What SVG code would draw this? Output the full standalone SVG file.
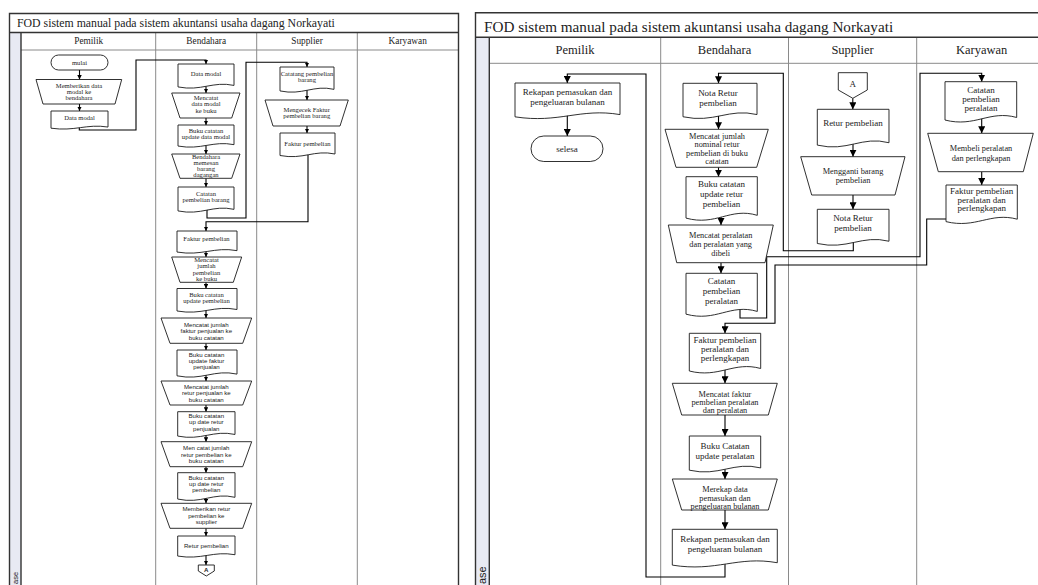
<svg xmlns="http://www.w3.org/2000/svg" width="1038" height="585" viewBox="0 0 1038 585">
<defs>
<style>
.frame{fill:none;stroke:#333;stroke-width:1.4}
.lane{fill:none;stroke:#8a8a8a;stroke-width:1}
.phase{fill:#e8eaf3}
.sh{fill:#fff;stroke:#1a1a1a;stroke-width:0.9}
.doc{fill:#fff;stroke:#1a1a1a;stroke-width:0.9;vector-effect:non-scaling-stroke}
.cn{fill:none;stroke:#000;stroke-width:1.1}
.cs{marker-end:url(#ahS)}
.cl{marker-end:url(#ahL)}
text{fill:#222;text-anchor:middle}
.ttl{font-family:"Liberation Serif",serif;text-anchor:start}
.hd{font-family:"Liberation Serif",serif}
.ls{font-family:"Liberation Serif",serif;font-size:6.6px}
.lsa{font-family:"Liberation Sans",Arial,sans-serif;font-size:6.1px}
.rd{font-family:"Liberation Serif",serif;font-size:9px}
.rt{font-family:"Liberation Serif",serif;font-size:8.3px}
.ph{font-family:"Liberation Sans",Arial,sans-serif;text-anchor:start}
</style>
<marker id="ahS" viewBox="0 0 10 10" refX="10" refY="5" markerWidth="4.5" markerHeight="4.5" markerUnits="userSpaceOnUse" orient="auto"><path d="M0,0L10,5L0,10z"/></marker>
<marker id="ahL" viewBox="0 0 10 10" refX="10" refY="5" markerWidth="7" markerHeight="7" markerUnits="userSpaceOnUse" orient="auto"><path d="M0,0L10,5L0,10z"/></marker>
</defs>
<rect width="1038" height="585" fill="#fff"/>

<!-- ===== Left pool ===== -->
<g id="pool-left">
  <rect class="phase" x="9.5" y="32.5" width="11.5" height="560"/>
  <path class="lane" d="M21,50H458.5M155.7,32.5V600M256.7,32.5V600M357.3,32.5V600"/>
  <path class="frame" d="M9.5,600V13.5H458.5V600M9.5,32.5H458.5M21,32.5V600"/>
  <text class="ttl" x="17" y="27" font-size="11.8">FOD sistem manual pada sistem akuntansi usaha dagang Norkayati</text>
  <text class="hd" x="88.7" y="44" font-size="9.3">Pemilik</text>
  <text class="hd" x="206.2" y="44" font-size="9.3">Bendahara</text>
  <text class="hd" x="307" y="44" font-size="9.3">Supplier</text>
  <text class="hd" x="407.7" y="44" font-size="9.3">Karyawan</text>
  <text class="ph" transform="translate(18 584) rotate(-90)" font-size="7.5" fill="#7d8aa3">ase</text>
</g>

<!-- ===== Right pool ===== -->
<g id="pool-right">
  <rect class="phase" x="475.5" y="37.3" width="13.8" height="560"/>
  <path class="lane" d="M489.3,63.3H1045M660.7,37.3V600M788.5,37.3V600M916.7,37.3V600"/>
  <path class="frame" d="M475.5,600V12.7H1045M475.5,37.3H1045M489.3,37.3V600"/>
  <text class="ttl" x="484" y="32" font-size="15.2">FOD sistem manual pada sistem akuntansi usaha dagang Norkayati</text>
  <text class="hd" x="575" y="54" font-size="12.5">Pemilik</text>
  <text class="hd" x="724.6" y="54" font-size="12.5">Bendahara</text>
  <text class="hd" x="852.6" y="54" font-size="12.5">Supplier</text>
  <text class="hd" x="981.7" y="54" font-size="12.5">Karyawan</text>
  <text class="ph" transform="translate(486 584) rotate(-90)" font-size="11" fill="#5b7cb8">ase</text>
</g>

<!-- ===== Connectors ===== -->
<g id="connectors" class="cn">
  <!-- left pool -->
  <path class="cs" d="M79.5,70V79.5"/>
  <path class="cs" d="M79.5,104V111"/>
  <path class="cs" d="M79.3,127V130H136V60H206V64"/>
  <path class="cs" d="M206,85.5V93"/>
  <path class="cs" d="M206,118V125"/>
  <path class="cs" d="M206,144.5V154"/>
  <path class="cs" d="M206,178.3V187"/>
  <path class="cs" d="M207,209V218H246V62.3H307V67"/>
  <path class="cs" d="M307,89.3V100"/>
  <path class="cs" d="M307,126V133"/>
  <path class="cs" d="M308,154V221.7H206V231"/>
  <path class="cs" d="M206,250.7V257"/>
  <path class="cs" d="M206,282.3V288.5"/>
  <path class="cs" d="M206,309.5V318"/>
  <path class="cs" d="M206,343.3V350"/>
  <path class="cs" d="M206,374V381"/>
  <path class="cs" d="M206,405V411.7"/>
  <path class="cs" d="M206,434.5V441.7"/>
  <path class="cs" d="M206,466.7V472.7"/>
  <path class="cs" d="M206,497.3V503.3"/>
  <path class="cs" d="M206,528.3V536"/>
  <path class="cs" d="M206,554.7V565"/>
  <!-- right pool -->
  <path class="cl" d="M567.3,114.6V136"/>
  <path class="cl" d="M725,562.7V577H646V74H567.3V83"/>
  <path class="cl" d="M718.5,114.6V129.3"/>
  <path class="cl" d="M718.5,167.3V176.7"/>
  <path class="cl" d="M721,215.4V225"/>
  <path class="cl" d="M721,262.7V273.3"/>
  <path class="cl" d="M740,310V318H766.7V256.7H920V73.3H981.7V81.7"/>
  <path class="cl" d="M946,219H926.7V265H775V323.3H725V333.3"/>
  <path class="cl" d="M725,368.5V383.3"/>
  <path class="cl" d="M725,415V436"/>
  <path class="cl" d="M725,468V479"/>
  <path class="cl" d="M725,510V529.3"/>
  <path class="cl" d="M852.8,98.3V109.3"/>
  <path class="cl" d="M853,142.7V156.7"/>
  <path class="cl" d="M853,195V209.3"/>
  <path class="cl" d="M853.3,241.2V250.7H783.3V73.3H718.5V83.3"/>
  <path class="cl" d="M981.7,117.5V133.3"/>
  <path class="cl" d="M981.7,171.7V185"/>
</g>

<!-- ===== Left pool nodes (documents drawn in unit space, stroke kept constant) ===== -->
<g id="l-mulai"><rect class="sh" x="51" y="55" width="57" height="15" rx="7.5"/><text class="ls" x="79.5" y="65">mulai</text></g>
<g id="l-memberikan-modal"><polygon class="sh" points="36,79.5 121.7,79.5 115,104 43,104"/>
  <text class="ls" x="79" y="87.5">Memberikan data</text><text class="ls" x="79" y="93.5">modal ke</text><text class="ls" x="79" y="99.5">bendahara</text></g>
<g id="l-data-modal-p"><path class="doc" d="M0,0H1V.84C.62,.66 .42,1.08 0,.9Z" transform="translate(51 111) scale(57 19.1)"/>
  <text class="ls" x="79.5" y="119.5">Data modal</text></g>
<g id="l-data-modal-b"><path class="doc" d="M0,0H1V.84C.62,.66 .42,1.08 0,.9Z" transform="translate(178 64) scale(56 25.5)"/>
  <text class="ls" x="206" y="75.5">Data modal</text></g>
<g id="l-catat-modal"><polygon class="sh" points="171.7,93 240,93 231.7,118 180,118"/>
  <text class="ls" x="206" y="99.5">Mencatat</text><text class="ls" x="206" y="106">data modal</text><text class="ls" x="206" y="112.5">ke buku</text></g>
<g id="l-buku-modal"><path class="doc" d="M0,0H1V.84C.62,.66 .42,1.08 0,.9Z" transform="translate(178 125) scale(56 23.4)"/>
  <text class="ls" x="206" y="133">Buku catatan</text><text class="ls" x="206" y="139">update data modal</text></g>
<g id="l-memesan"><polygon class="sh" points="171.7,154 240,154 231.7,178.3 180,178.3"/>
  <text class="ls" x="206" y="158.5">Bendahara</text><text class="ls" x="206" y="164.8">memesan</text><text class="ls" x="206" y="171.1">barang</text><text class="ls" x="206" y="177.4">dagangan</text></g>
<g id="l-catatan-barang"><path class="doc" d="M0,0H1V.84C.62,.66 .42,1.08 0,.9Z" transform="translate(178 187) scale(56 26.6)"/>
  <text class="ls" x="206" y="196.3">Catatan</text><text class="ls" x="206" y="202.3">pembelian barang</text></g>
<g id="l-sup-catatan"><path class="doc" d="M0,0H1V.84C.62,.66 .42,1.08 0,.9Z" transform="translate(280 67) scale(54 26.6)"/>
  <text class="ls" x="307" y="76.3">Catatang pembelian</text><text class="ls" x="307" y="82.3">barang</text></g>
<g id="l-sup-cek"><polygon class="sh" points="265,100 348.3,100 340,126 273,126"/>
  <text class="ls" x="306.7" y="112">Mengecek Faktur</text><text class="ls" x="306.7" y="118.3">pembelian barang</text></g>
<g id="l-sup-faktur"><path class="doc" d="M0,0H1V.84C.62,.66 .42,1.08 0,.9Z" transform="translate(280 133) scale(55 25)"/>
  <text class="ls" x="307.5" y="145.5">Faktur pembelian</text></g>
<g id="l-faktur"><path class="doc" d="M0,0H1V.84C.62,.66 .42,1.08 0,.9Z" transform="translate(177 231) scale(60 23.4)"/>
  <text class="ls" x="206.5" y="240.5">Faktur pembelian</text></g>
<g id="l-catat-pembelian"><polygon class="sh" points="171.7,257 241.7,257 233.3,282.3 180,282.3"/>
  <text class="ls" x="206.5" y="261.5">Mencatat</text><text class="ls" x="206.5" y="268">jumlah</text><text class="ls" x="206.5" y="274.5">pembelian</text><text class="ls" x="206.5" y="281">ke buku</text></g>
<g id="l-buku-pembelian"><path class="doc" d="M0,0H1V.84C.62,.66 .42,1.08 0,.9Z" transform="translate(177 288.5) scale(60 25)"/>
  <text class="ls" x="206.5" y="297">Buku catatan</text><text class="ls" x="206.5" y="303">update pembelian</text></g>
<g id="l-catat-penjualan"><polygon class="sh" points="161,318 251.7,318 242.7,343.3 170,343.3"/>
  <text class="lsa" x="206.3" y="327">Mencatat jumlah</text><text class="lsa" x="206.3" y="333.3">faktur penjualan ke</text><text class="lsa" x="206.3" y="339.6">buku catatan</text></g>
<g id="l-buku-penjualan"><path class="doc" d="M0,0H1V.84C.62,.66 .42,1.08 0,.9Z" transform="translate(177 350) scale(60 28.7)"/>
  <text class="lsa" x="206.5" y="357">Buku catatan</text><text class="lsa" x="206.5" y="363.2">update faktur</text><text class="lsa" x="206.5" y="369.4">penjualan</text></g>
<g id="l-catat-retur-jual"><polygon class="sh" points="161,381 251.7,381 242.7,405 170,405"/>
  <text class="lsa" x="206.3" y="389">Mencatat jumlah</text><text class="lsa" x="206.3" y="395.3">retur penjualan ke</text><text class="lsa" x="206.3" y="401.6">buku catatan</text></g>
<g id="l-buku-retur-jual"><path class="doc" d="M0,0H1V.84C.62,.66 .42,1.08 0,.9Z" transform="translate(177.7 411.7) scale(57.3 27.1)"/>
  <text class="lsa" x="206.3" y="418">Buku catatan</text><text class="lsa" x="206.3" y="424.3">up date retur</text><text class="lsa" x="206.3" y="430.6">penjualan</text></g>
<g id="l-catat-retur-beli"><polygon class="sh" points="161,441.7 251.7,441.7 242.7,466.7 170,466.7"/>
  <text class="lsa" x="206.3" y="450.3">Men catat jumlah</text><text class="lsa" x="206.3" y="456.6">retur pembelian ke</text><text class="lsa" x="206.3" y="462.9">buku catatan</text></g>
<g id="l-buku-retur-beli"><path class="doc" d="M0,0H1V.84C.62,.66 .42,1.08 0,.9Z" transform="translate(177.7 472.7) scale(57.3 29.3)"/>
  <text class="lsa" x="206.3" y="479.7">Buku catatan</text><text class="lsa" x="206.3" y="486">up date retur</text><text class="lsa" x="206.3" y="492.3">pembelian</text></g>
<g id="l-beri-retur"><polygon class="sh" points="161,503.3 251.7,503.3 242.7,528.3 170,528.3"/>
  <text class="lsa" x="206.3" y="511.3">Memberikan retur</text><text class="lsa" x="206.3" y="517.6">pembelian ke</text><text class="lsa" x="206.3" y="523.9">supplier</text></g>
<g id="l-retur"><path class="doc" d="M0,0H1V.84C.62,.66 .42,1.08 0,.9Z" transform="translate(177.7 536) scale(57.3 22.3)"/>
  <text class="lsa" x="206.3" y="548">Retur pembelian</text></g>
<g id="l-offpage-a"><polygon class="sh" points="198.3,565 214.3,565 214.3,571 206.3,576 198.3,571"/>
  <text class="lsa" x="206.3" y="571.5" font-size="5" font-weight="bold">A</text></g>

<!-- ===== Right pool nodes ===== -->
<g id="r-rekap-pemilik"><path class="doc" d="M0,0H1V.84C.62,.66 .42,1.08 0,.9Z" transform="translate(515 83) scale(105 37.6)"/>
  <text class="rd" x="567.5" y="94.5">Rekapan pemasukan dan</text><text class="rd" x="567.5" y="104.5">pengeluaran bulanan</text></g>
<g id="r-selesai"><rect class="sh" x="531" y="136" width="72" height="25.5" rx="12.75"/><text class="rd" x="567" y="151.5">selesa</text></g>
<g id="r-nota-bend"><path class="doc" d="M0,0H1V.84C.62,.66 .42,1.08 0,.9Z" transform="translate(683 83.3) scale(74 37.2)"/>
  <text class="rd" x="718" y="95.5">Nota Retur</text><text class="rd" x="718" y="105.5">pembelian</text></g>
<g id="r-catat-nominal"><polygon class="sh" points="665,129.3 768.3,129.3 756.7,167.3 676,167.3"/>
  <text class="rt" x="717" y="138.5">Mencatat jumlah</text><text class="rt" x="717" y="147">nominal retur</text><text class="rt" x="717" y="155.5">pembelian di buku</text><text class="rt" x="717" y="164">catatan</text></g>
<g id="r-buku-retur"><path class="doc" d="M0,0H1V.84C.62,.66 .42,1.08 0,.9Z" transform="translate(686 176.7) scale(71.3 46)"/>
  <text class="rd" x="721.5" y="187">Buku catatan</text><text class="rd" x="721.5" y="197">update retur</text><text class="rd" x="721.5" y="207">pembelian</text></g>
<g id="r-catat-peralatan"><polygon class="sh" points="668.3,225 773.3,225 765,262.7 676.7,262.7"/>
  <text class="rt" x="720.7" y="238">Mencatat peralatan</text><text class="rt" x="720.7" y="247">dan peralatan yang</text><text class="rt" x="720.7" y="255.5">dibeli</text></g>
<g id="r-catatan-peralatan-b"><path class="doc" d="M0,0H1V.84C.62,.66 .42,1.08 0,.9Z" transform="translate(686 273.3) scale(71.3 45.4)"/>
  <text class="rd" x="721.5" y="283.5">Catatan</text><text class="rd" x="721.5" y="294">pembelian</text><text class="rd" x="721.5" y="303.5">peralatan</text></g>
<g id="r-faktur-bend"><path class="doc" d="M0,0H1V.84C.62,.66 .42,1.08 0,.9Z" transform="translate(689.3 333.3) scale(71.4 41.9)"/>
  <text class="rd" x="725" y="342.8">Faktur pembelian</text><text class="rd" x="725" y="351.8">peralatan dan</text><text class="rd" x="725" y="360.6">perlengkapan</text></g>
<g id="r-catat-faktur"><polygon class="sh" points="672.3,383.3 777.3,383.3 768.3,415 681.7,415"/>
  <text class="rt" x="725" y="396.5">Mencatat faktur</text><text class="rt" x="725" y="405">pembelian peralatan</text><text class="rt" x="725" y="413.3">dan peralatan</text></g>
<g id="r-buku-peralatan"><path class="doc" d="M0,0H1V.84C.62,.66 .42,1.08 0,.9Z" transform="translate(689.3 436) scale(71.4 38)"/>
  <text class="rd" x="725" y="448.5">Buku Catatan</text><text class="rd" x="725" y="458.5">update peralatan</text></g>
<g id="r-merekap"><polygon class="sh" points="672.3,479 777.3,479 768.3,510 681.7,510"/>
  <text class="rt" x="725" y="492">Merekap data</text><text class="rt" x="725" y="500.5">pemasukan dan</text><text class="rt" x="725" y="508.7">pengeluaran bulanan</text></g>
<g id="r-rekap-bend"><path class="doc" d="M0,0H1V.84C.62,.66 .42,1.08 0,.9Z" transform="translate(672.3 529.3) scale(105 39.8)"/>
  <text class="rd" x="725" y="542">Rekapan pemasukan dan</text><text class="rd" x="725" y="552">pengeluaran bulanan</text></g>
<g id="r-offpage-a"><polygon class="sh" points="838.3,72.7 867.3,72.7 867.3,90 852.8,98.3 838.3,90"/>
  <text class="rd" x="852.8" y="87" font-size="10">A</text></g>
<g id="r-retur-sup"><path class="doc" d="M0,0H1V.84C.62,.66 .42,1.08 0,.9Z" transform="translate(817.3 109.3) scale(71.7 39.8)"/>
  <text class="rd" x="853" y="126">Retur pembelian</text></g>
<g id="r-mengganti"><polygon class="sh" points="800.7,156.7 905,156.7 895,195 811.7,195"/>
  <text class="rt" x="853" y="174">Mengganti barang</text><text class="rt" x="853" y="183">pembelian</text></g>
<g id="r-nota-sup"><path class="doc" d="M0,0H1V.84C.62,.66 .42,1.08 0,.9Z" transform="translate(817.3 209.3) scale(71.7 38)"/>
  <text class="rd" x="853" y="221">Nota Retur</text><text class="rd" x="853" y="231">pembelian</text></g>
<g id="r-catatan-kary"><path class="doc" d="M0,0H1V.84C.62,.66 .42,1.08 0,.9Z" transform="translate(945 81.7) scale(71.7 42.6)"/>
  <text class="rd" x="981" y="92.5">Catatan</text><text class="rd" x="981" y="101.8">pembelian</text><text class="rd" x="981" y="111.1">peralatan</text></g>
<g id="r-membeli"><polygon class="sh" points="927.7,133.3 1033.3,133.3 1023.3,171.7 938.3,171.7"/>
  <text class="rt" x="981" y="151">Membeli peralatan</text><text class="rt" x="981" y="160.5">dan perlengkapan</text></g>
<g id="r-faktur-kary"><path class="doc" d="M0,0H1V.84C.62,.66 .42,1.08 0,.9Z" transform="translate(946 185) scale(71.3 40.7)"/>
  <text class="rd" x="981.7" y="193.5">Faktur pembelian</text><text class="rd" x="981.7" y="202.5">peralatan dan</text><text class="rd" x="981.7" y="211.3">perlengkapan</text></g>
</svg>
